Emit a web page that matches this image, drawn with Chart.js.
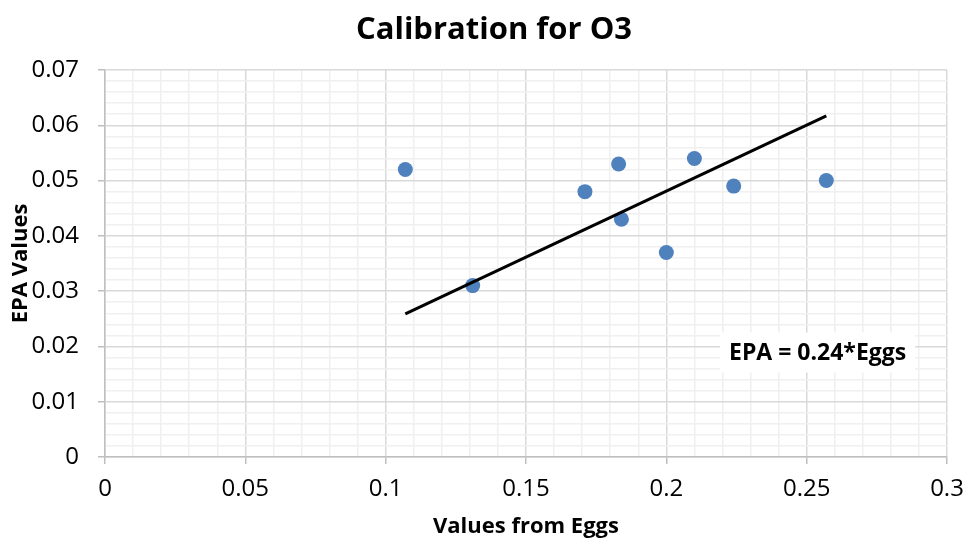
<!DOCTYPE html>
<html>
<head>
<meta charset="utf-8">
<script src="https://cdn.jsdelivr.net/npm/chart.js@4.4.0/dist/chart.umd.min.js"></script>
<style>
  html, body { margin: 0; padding: 0; background: #fff; }
  #wrap { width: 966px; height: 542px; }
</style>
</head>
<body>
<div id="wrap"><canvas id="calChart" width="966" height="542"></canvas></div>
<script>
// values
const eggValues = [0.107, 0.131, 0.171, 0.183, 0.184, 0.2, 0.21, 0.224, 0.257];
const epaValues = [0.052, 0.031, 0.048, 0.053, 0.043, 0.037, 0.054, 0.049, 0.050];
const trendX = [0.107, 0.257];
const trendY = [0.0259, 0.0617];
const xTickLabels = ['0', '0.05', '0.1', '0.15', '0.2', '0.25', '0.3'];
const yTickLabels = ['0', '0.01', '0.02', '0.03', '0.04', '0.05', '0.06', '0.07'];
const equationText = 'EPA = 0.24*Eggs';

const FONT = "'Open Sans', 'Noto Sans', sans-serif";

function isMajor(v, step) {
    const r = v / step;
    return Math.abs(r - Math.round(r)) < 1e-6;
}

// title and equation box, drawn on the canvas
const extraText = {
    id: 'extraText',
    afterDraw(chart) {
        const ctx = chart.ctx;
        const xs = chart.scales.x, ys = chart.scales.y;
        ctx.save();
        ctx.fillStyle = '#000';
        ctx.textAlign = 'center';
        ctx.textBaseline = 'middle';
        ctx.font = 'bold 31px ' + FONT;
        ctx.fillText('Calibration for O3', 494, 30);

        const cx = xs.getPixelForValue(0.2539);
        const cy = ys.getPixelForValue(0.0189);
        ctx.font = 'bold 23px ' + FONT;
        const w = ctx.measureText(equationText).width + 18;
        ctx.fillStyle = '#fff';
        ctx.fillRect(cx - w / 2, cy - 20, w, 40);
        ctx.fillStyle = '#000';
        ctx.fillText(equationText, cx, cy + 1);
        ctx.restore();
    }
};

new Chart(document.getElementById('calChart').getContext('2d'), {
    type: 'scatter',
    data: {
        datasets: [{
            label: 'EPA',
            data: eggValues.map((x, i) => ({ x: x, y: epaValues[i] })),
            backgroundColor: '#4f81bd',
            borderWidth: 0,
            pointRadius: 7.5,
            pointHoverRadius: 7.5,
            order: 2
        }, {
            label: 'Trend',
            type: 'line',
            data: trendX.map((x, i) => ({ x: x, y: trendY[i] })),
            borderColor: '#000',
            borderWidth: 3,
            pointRadius: 0,
            fill: false,
            order: 1
        }]
    },
    options: {
        responsive: false,
        animation: false,
        events: [],
        layout: { padding: { top: 70, right: 0, left: 0, bottom: 0 } },
        plugins: {
            legend: { display: false },
            tooltip: { enabled: false }
        },
        scales: {
            x: {
                type: 'linear',
                min: 0,
                max: 0.3,
                afterFit(scale) {
                    scale.height = 85;
                    scale.paddingRight = 19;
                },
                ticks: {
                    stepSize: 0.01,
                    autoSkip: false,
                    maxRotation: 0,
                    padding: 11,
                    color: '#000',
                    font: { family: FONT, size: 24 },
                    callback(v) {
                        return isMajor(v, 0.05) ? xTickLabels[Math.round(v / 0.05)] : '';
                    }
                },
                grid: {
                    color: c => isMajor(c.tick.value, 0.05) ? '#d9d9d9' : '#f0f0f0',
                    lineWidth: 1.5,
                    tickLength: 7,
                    tickColor: c => isMajor(c.tick.value, 0.05) ? '#bfbfbf' : 'rgba(0,0,0,0)'
                },
                border: { color: '#bfbfbf', width: 1.5 },
                title: {
                    display: true,
                    text: 'Values from Eggs',
                    color: '#000',
                    font: { family: FONT, size: 22, weight: 'bold' },
                    padding: { top: 0, bottom: 2 }
                }
            },
            y: {
                type: 'linear',
                min: 0,
                max: 0.07,
                afterFit(scale) { scale.width = 105; },
                ticks: {
                    stepSize: 0.002,
                    autoSkip: false,
                    padding: 19,
                    color: '#000',
                    font: { family: FONT, size: 24 },
                    callback(v) {
                        return isMajor(v, 0.01) ? yTickLabels[Math.round(v / 0.01)] : '';
                    }
                },
                grid: {
                    color: c => isMajor(c.tick.value, 0.01) ? '#d9d9d9' : '#f0f0f0',
                    lineWidth: 1.5,
                    tickLength: 7,
                    tickColor: c => isMajor(c.tick.value, 0.01) ? '#bfbfbf' : 'rgba(0,0,0,0)'
                },
                border: { color: '#bfbfbf', width: 1.5 },
                title: {
                    display: true,
                    text: 'EPA Values',
                    color: '#000',
                    font: { family: FONT, size: 22, weight: 'bold' },
                    padding: { top: 8, bottom: 0 }
                }
            }
        }
    },
    plugins: [extraText]
});
</script>
</body>
</html>
